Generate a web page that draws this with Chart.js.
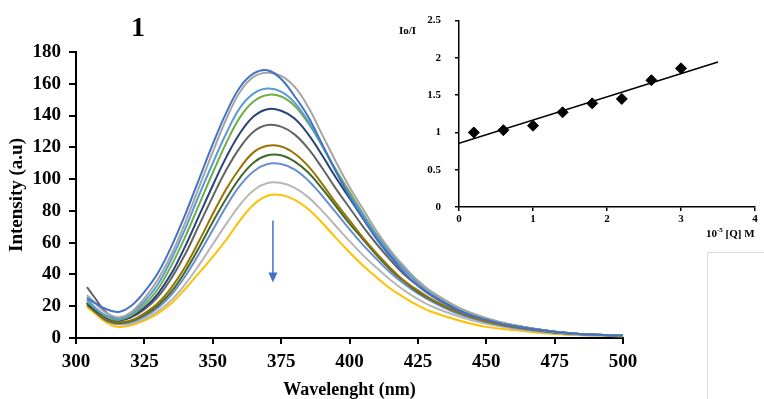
<!DOCTYPE html>
<html>
<head>
<meta charset="utf-8">
<script src="https://cdn.jsdelivr.net/npm/chart.js@4.4.0/dist/chart.umd.min.js"></script>
<style>
  body { margin: 0; background: #fff; }
  #wrap { position: relative; width: 764px; height: 399px; overflow: hidden;
          font-family: 'Liberation Serif', 'Times New Roman', serif; font-weight: bold; color: #000; }
  canvas { position: absolute; }
  #mainChart { left: 0; top: 0; }
  #insetChart { left: 410px; top: 0; }
  .lbl { position: absolute; white-space: nowrap; line-height: 1; }
  #num { left: 131px; top: 13px; font-size: 28px; }
  #insetY { left: 399px; top: 25px; font-size: 11px; }
  #insetX { left: 706px; top: 227px; font-size: 11px; }
  #box { position: absolute; left: 707px; top: 252px; width: 70px; height: 160px;
         border-left: 1px solid #dcdcdc; border-top: 1px solid #dcdcdc; }
</style>
</head>
<body>
<div id="wrap">
  <canvas id="mainChart" width="764" height="399"></canvas>
  <canvas id="insetChart" width="354" height="250"></canvas>
  <div class="lbl" id="num">1</div>
  <div class="lbl" id="insetY">Io/I</div>
  <div class="lbl" id="insetX">10<sup style="font-size:7px">-5</sup> [Q] M</div>
  <div id="box"></div>
</div>
<script>
// emission spectra (nm)
const wavelengths = [304, 307, 310, 313, 316, 320, 325, 330, 335, 340, 345, 350, 355, 360, 365, 370, 375, 380,
  385, 390, 395, 400, 405, 410, 415, 420, 425, 430, 440, 450, 460, 475, 490, 500];

const q0 = [25, 22, 19, 17, 16.5, 20, 29, 41, 58, 78, 100, 122, 142, 158, 166.5, 168.5, 163, 152,
  139, 122, 105, 89, 75, 62, 51, 41, 33, 26.5, 17, 11.5, 7.5, 4, 2, 1.5];
const q1 = [27, 22, 17, 14, 13, 16, 25, 37, 53, 73, 95, 117, 138, 155, 164.5, 167, 165, 158,
  145, 128, 111, 95, 81, 67, 55, 45, 36, 29, 19, 12.5, 8, 4, 2, 1.5];
const q2 = [24, 19, 15, 12.5, 12, 15, 23, 34, 50, 69, 90, 110, 129, 145, 154, 157, 155, 148,
  136, 121, 105, 90, 77, 64, 53, 43, 35, 28, 18.5, 12, 8, 4, 2, 1.5];
const q3 = [23, 18.5, 14.5, 12, 11.5, 14, 21, 31, 46, 64, 84, 104, 123, 139, 149, 153, 152, 146,
  135, 121, 106, 92, 78, 65, 54, 44, 36, 29, 19, 12.5, 8, 4, 2, 1.5];
const q4 = [22, 17.5, 14, 11.5, 11, 13, 19, 28, 41, 58, 77, 96, 114, 129, 139.5, 144, 143, 138,
  128, 115, 101, 88, 75, 63, 52, 43, 35, 28, 18, 12, 8, 4, 2, 1.5];
const q5 = [32, 25, 18, 13.5, 12, 13, 18, 26, 38, 53, 71, 89, 106, 120, 130, 134, 133, 128,
  119, 107, 94, 82, 70, 59, 49, 40, 33, 27, 17.5, 11.5, 7.5, 4, 2, 1.5];
const q6 = [22, 17, 13, 10.5, 10, 11, 15.5, 22, 32, 45, 61, 78, 94, 107, 117, 121, 120.5, 116,
  108, 97, 85, 74, 63, 53, 44, 36, 30, 24.5, 16, 10.5, 7, 3.5, 2, 1.5];
const q7 = [21, 16.5, 12.5, 10, 9.5, 10.5, 14.5, 20.5, 29.5, 42, 57, 73, 88, 101, 110.5, 115, 115, 111,
  104, 94, 83, 72, 62, 52, 43, 35.5, 29, 24, 16, 10.5, 7, 3.5, 2, 1.5];
const q8 = [22, 16.5, 12, 9.5, 9, 10, 13.5, 19, 27.5, 39, 53, 68, 83, 96, 105, 109.5, 109.5, 106,
  99, 89.5, 79, 68.5, 58.5, 49.5, 41, 34, 28, 23, 15, 10, 6.5, 3.5, 2, 1.5];
const q9 = [26, 19, 13, 9.5, 8.5, 9, 12, 17, 24, 34, 46, 59, 72, 84, 93, 97.5, 97.5, 94.5,
  88.5, 80, 70.5, 61, 52, 44, 36.5, 30, 24.5, 20, 13.5, 9, 6, 3, 1.5, 1.2];
const q10 = [19.5, 15.5, 11, 8, 7, 8, 11, 15.5, 22, 31, 41, 51, 62, 74, 84, 89.5, 90, 87,
  81, 72.5, 63, 54, 45.5, 38, 31, 25.5, 20.5, 16.5, 11, 7, 5, 2.5, 1.5, 1];

const spectra = [q0, q1, q2, q3, q4, q5, q6, q7, q8, q9, q10];
const spectraColors = ['#4472C4', '#A5A5A5', '#5B9BD5', '#70AD47', '#264478', '#636363',
  '#997300', '#43682B', '#698ED0', '#B7B7B7', '#FFC000'];

// Stern-Volmer inset
const quencherConc = [0.2, 0.6, 1.0, 1.4, 1.8, 2.2, 2.6, 3.0];
const ratioIoI = [1.0, 1.03, 1.09, 1.27, 1.39, 1.45, 1.70, 1.86];
const fitX = [0, 3.5];
const fitY = [0.855, 1.945];

// arrow (wavelength, from, to)
const arrowWave = 372;
const arrowFrom = 74;
const arrowTo = 35;

const serif = "'Liberation Serif', 'Times New Roman', serif";

const arrowPlugin = {
  id: 'quenchArrow',
  afterDatasetsDraw(chart) {
    const { ctx, scales: { x, y } } = chart;
    const px = x.getPixelForValue(arrowWave);
    const top = y.getPixelForValue(arrowFrom);
    const tip = y.getPixelForValue(arrowTo);
    ctx.save();
    ctx.strokeStyle = '#4472C4';
    ctx.fillStyle = '#4472C4';
    ctx.lineWidth = 1.5;
    ctx.beginPath();
    ctx.moveTo(px, top);
    ctx.lineTo(px, tip - 8);
    ctx.stroke();
    ctx.beginPath();
    ctx.moveTo(px, tip);
    ctx.lineTo(px - 4.5, tip - 10);
    ctx.lineTo(px + 4.5, tip - 10);
    ctx.closePath();
    ctx.fill();
    ctx.restore();
  }
};

new Chart(document.getElementById('mainChart'), {
  type: 'line',
  data: {
    datasets: spectra.map((vals, i) => ({
      data: wavelengths.map((w, j) => ({ x: w, y: vals[j] })),
      borderColor: spectraColors[i],
      borderWidth: 2,
      pointRadius: 0,
      tension: 0.4,
      fill: false
    }))
  },
  options: {
    responsive: false,
    animation: false,
    layout: { padding: { left: 0, right: 141, top: 52, bottom: 0 } },
    plugins: { legend: { display: false }, tooltip: { enabled: false } },
    scales: {
      x: {
        type: 'linear', min: 300, max: 500,
        afterFit: s => { s.height = 61; },
        ticks: { stepSize: 25, color: '#000', padding: 7, font: { family: serif, size: 19, weight: 'bold' } },
        grid: { drawOnChartArea: false, tickLength: 6, color: '#000', lineWidth: 2 },
        border: { color: '#000', width: 2 },
        title: { display: true, text: 'Wavelenght (nm)', color: '#000', padding: { top: 0, bottom: 0 },
                 font: { family: serif, size: 18, weight: 'bold', lineHeight: 1 } }
      },
      y: {
        min: 0, max: 180,
        afterFit: s => { s.width = 76; },
        ticks: { stepSize: 20, color: '#000', padding: 8, font: { family: serif, size: 19, weight: 'bold' } },
        grid: { drawOnChartArea: false, tickLength: 7, color: '#000', lineWidth: 2 },
        border: { color: '#000', width: 2 },
        title: { display: true, text: 'Intensity (a.u)', color: '#000', padding: { top: 6, bottom: 0 },
                 font: { family: serif, size: 19, weight: 'bold' } }
      }
    }
  },
  plugins: [arrowPlugin]
});

new Chart(document.getElementById('insetChart'), {
  type: 'scatter',
  data: {
    datasets: [
      {
        data: fitX.map((v, i) => ({ x: v, y: fitY[i] })),
        showLine: true,
        borderColor: '#000',
        borderWidth: 1.5,
        pointRadius: 0
      },
      {
        data: quencherConc.map((v, i) => ({ x: v, y: ratioIoI[i] })),
        pointStyle: 'rectRot',
        pointRadius: 5.5,
        backgroundColor: '#000',
        borderColor: '#000'
      }
    ]
  },
  options: {
    responsive: false,
    animation: false,
    layout: { padding: { left: 0, right: 9, top: 18, bottom: 0 } },
    plugins: { legend: { display: false }, tooltip: { enabled: false } },
    scales: {
      x: {
        type: 'linear', min: 0, max: 4,
        afterFit: s => { s.height = 43; },
        ticks: { stepSize: 1, color: '#000', padding: 2, font: { family: serif, size: 11, weight: 'bold' },
                 callback: v => String(v) },
        grid: { drawOnChartArea: false, tickLength: 4, color: '#000', lineWidth: 1.5 },
        border: { color: '#000', width: 1.5 }
      },
      y: {
        min: 0, max: 2.5,
        afterFit: s => { s.width = 49; },
        ticks: { stepSize: 0.5, color: '#000', padding: 14, font: { family: serif, size: 11, weight: 'bold' },
                 callback: v => String(v) },
        grid: { drawOnChartArea: false, tickLength: 4, color: '#000', lineWidth: 1.5 },
        border: { color: '#000', width: 1.5 }
      }
    }
  }
});
</script>
</body>
</html>
